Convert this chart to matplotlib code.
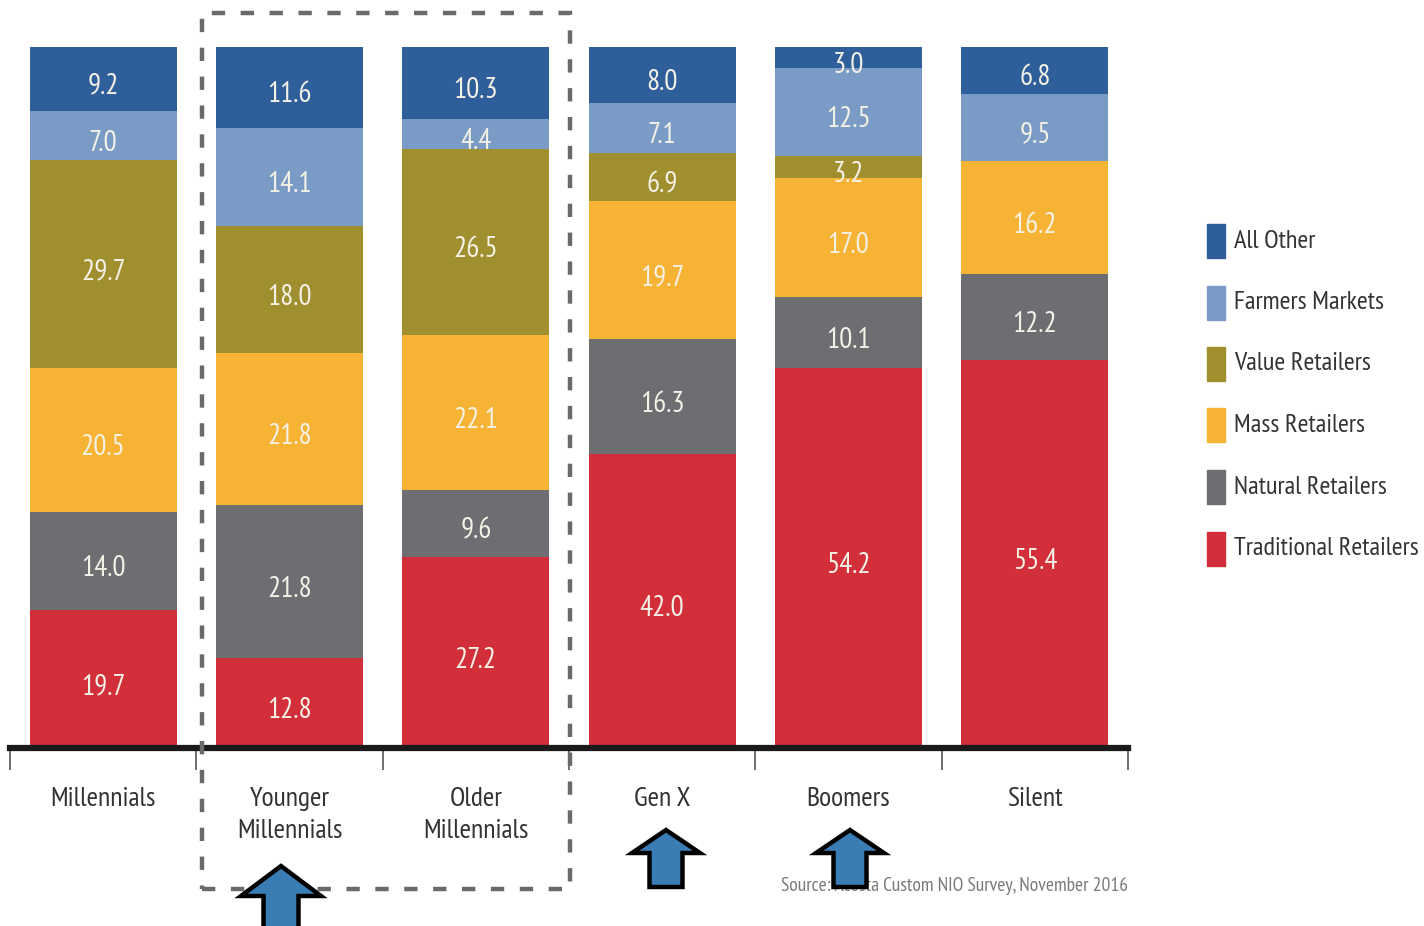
import numpy as np
import matplotlib
matplotlib.use("Agg")
import matplotlib.pyplot as plt
from matplotlib import font_manager as fm
from matplotlib.patches import Rectangle, Polygon

# narrow sans, first one that is installed
installed = {f.name for f in fm.fontManager.ttflist}
narrow = [n for n in ["PT Sans Narrow", "Archivo Narrow", "Roboto Condensed",
                      "Fira Sans Condensed", "Liberation Sans Narrow"]
          if n in installed]
plt.rcParams['font.family'] = narrow[:1] + ['DejaVu Sans']

# ── Data ─────────────────────────────────────────────────────────────────────
categories = ["Millennials", "Younger\nMillennials", "Older\nMillennials",
              "Gen X", "Boomers", "Silent"]
series = ["Traditional Retailers", "Natural Retailers", "Mass Retailers",
          "Value Retailers", "Farmers Markets", "All Other"]
traditional = [19.7, 12.8, 27.2, 42.0, 54.2, 55.4]
natural     = [14.0, 21.8, 9.6, 16.3, 10.1, 12.2]
mass        = [20.5, 21.8, 22.1, 19.7, 17.0, 16.2]
value       = [29.7, 18.0, 26.5, 6.9, 3.2, 0.0]
farmers     = [7.0, 14.1, 4.4, 7.1, 12.5, 9.5]
all_other   = [9.2, 11.6, 10.3, 8.0, 3.0, 6.8]
source_note = "Source: Acosta Custom NIO Survey, November 2016"

colors = ["#D22F3A", "#6D6E72", "#F7B334", "#A08F2E", "#7B9BC7", "#2E5F9A"]
values = [traditional, natural, mass, value, farmers, all_other]

W, H = 1424, 926
fig = plt.figure(figsize=(W / 100, H / 100), dpi=100)


def px(x, y):
    """pixel position (from top-left) -> figure fraction"""
    return x / W, 1 - y / H


ax = fig.add_axes([10 / W, 1 - 748 / H, 1118 / W, 701 / H])
x = np.arange(len(categories))
bottom = np.zeros(len(categories))
for name, vals, col in zip(series, values, colors):
    vals = np.array(vals)
    ax.bar(x, vals, 0.79, bottom=bottom, color=col, label=name, zorder=2)
    for xi, b, v in zip(x, bottom, vals):
        if v > 0:
            ax.text(xi, b + v / 2 - 1.1, f"{v:.1f}", ha="center", va="center",
                    color="#F4F1E6", fontsize=21)
    bottom += vals

ax.set_xlim(-0.5, 5.5)
ax.set_ylim(0, 100)
for s in ["top", "left", "right"]:
    ax.spines[s].set_visible(False)
ax.spines["bottom"].set_linewidth(4.5)
ax.spines["bottom"].set_color("#1a1a1a")
ax.set_yticks([])
ax.set_xticks(x)
ax.set_xticklabels(categories, fontsize=20, color="#333333", linespacing=1.45,
                   va="top")
ax.tick_params(axis="x", length=0, pad=28)
ax.set_xticks(np.arange(-0.5, 6.0, 1.0), minor=True)
ax.tick_params(axis="x", which="minor", length=16, width=1.2, color="#555555",
               direction="out")

# legend, drawn by hand
for i, (name, col) in enumerate(zip(series[::-1], colors[::-1])):
    yc = 241 + i * 61.5
    fx, fy = px(1207, yc + 17)
    fig.add_artist(Rectangle((fx, fy), 18 / W, 34 / H, color=col,
                             transform=fig.transFigure))
    tx, ty = px(1234, yc)
    fig.text(tx, ty, name, fontsize=19, color="#333333", va="center", ha="left")

# source note
sx, sy = px(1128, 886)
fig.text(sx, sy, source_note, fontsize=14, color="#7a7a7a", style="italic",
         ha="right", va="center")

# dashed box around the millennial split
bx, by = px(202, 889)
fig.add_artist(Rectangle((bx, by), 368 / W, 876 / H, fill=False,
                         edgecolor="#6a6a6a", linewidth=3.2,
                         linestyle=(0, (3, 3.5)), transform=fig.transFigure))


# blue up-arrows
def up_arrow(cx, tip, height, head_w, head_h, shaft_w):
    pts = [(cx, tip), (cx + head_w / 2, tip + head_h),
           (cx + shaft_w / 2, tip + head_h), (cx + shaft_w / 2, tip + height),
           (cx - shaft_w / 2, tip + height), (cx - shaft_w / 2, tip + head_h),
           (cx - head_w / 2, tip + head_h)]
    fig.add_artist(Polygon([px(a, b) for a, b in pts], closed=True,
                           facecolor="#3A7DB5", edgecolor="black",
                           linewidth=3.2, joinstyle="miter",
                           transform=fig.transFigure, zorder=10))


up_arrow(281, 866, 66, 80, 30, 35)
up_arrow(666, 830, 57, 68, 23, 33)
up_arrow(850, 830, 57, 68, 23, 33)

plt.savefig("out.png", dpi=100)
